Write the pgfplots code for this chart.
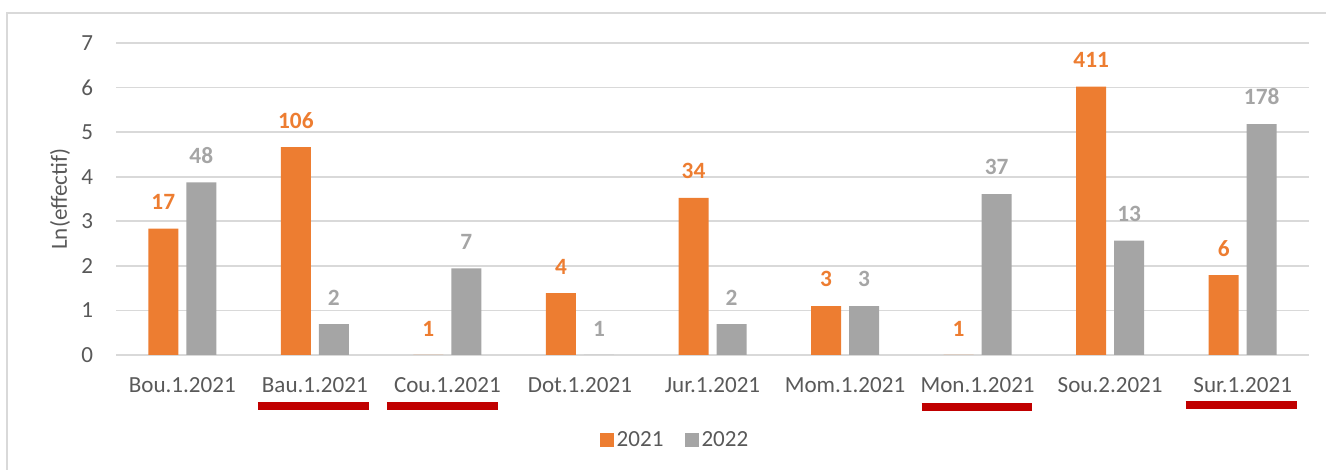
\documentclass[border=0pt]{standalone}
\usepackage{fontspec}
\setmainfont{Carlito}
\usepackage{pgfplots}
\pgfplotsset{compat=1.18}

\definecolor{xlorange}{HTML}{ED7D31}
\definecolor{xlgray}{HTML}{A5A5A5}
\definecolor{gridgray}{HTML}{D9D9D9}
\definecolor{txtgray}{HTML}{595959}
\definecolor{underred}{HTML}{C00000}

\begin{document}
\begin{tikzpicture}
\begin{axis}[
  at={(87pt,86.25pt)}, anchor=south west,
  scale only axis,
  width=894.75pt, height=234pt,
  ybar=6pt, bar width=22.5pt,
  xmin=-0.5, xmax=8.5,
  ymin=0, ymax=7,
  xtick={0,...,8},
  xticklabels={Bou.1.2021,Bau.1.2021,Cou.1.2021,Dot.1.2021,Jur.1.2021,Mom.1.2021,Mon.1.2021,Sou.2.2021,Sur.1.2021},
  ytick={0,...,7},
  axis line style={draw=none},
  ymajorgrids,
  grid style={gridgray, line width=1.2pt},
  major tick length=0pt,
  /pgf/number format/assume math mode=true,
  tick label style={font=\fontsize{17.3}{20}\selectfont, text=txtgray, inner sep=0pt},
  xticklabel style={anchor=north, yshift=-16.5pt},
  yticklabel style={anchor=east, xshift=-17pt},
  ylabel={Ln(effectif)},
  every axis y label/.style={at={(axis description cs:-0.047,0.5)}, rotate=90, anchor=center,
    font=\fontsize{17.3}{20}\selectfont, text=txtgray},
  point meta=explicit symbolic,
  nodes near coords,
  every node near coord/.append style={font=\fontsize{17.5}{20}\selectfont\bfseries, anchor=south, inner sep=0pt, yshift=14pt},
  legend columns=2,
  legend style={at={(axis description cs:0.469,-0.272)}, anchor=center, draw=none, fill=none,
    font=\fontsize{17.3}{20}\selectfont, text=txtgray,
    /tikz/every even column/.append style={column sep=14pt}},
  legend image code/.code={\fill[#1] (0pt,-5.25pt) rectangle (10.5pt,5.25pt);},
  clip=false,
]
\addplot[fill=xlorange, draw=none, every node near coord/.append style={text=xlorange}] coordinates {
  (0,2.833) [17] (1,4.663) [106] (2,0) [1] (3,1.386) [4] (4,3.526) [34]
  (5,1.099) [3] (6,0) [1] (7,6.019) [411] (8,1.792) [6]
};
\addplot[fill=xlgray, draw=none, every node near coord/.append style={text=xlgray}] coordinates {
  (0,3.871) [48] (1,0.693) [2] (2,1.946) [7] (3,0) [1] (4,0.693) [2]
  (5,1.099) [3] (6,3.611) [37] (7,2.565) [13] (8,5.182) [178]
};
\legend{2021,2022}
\draw[underred, line width=6pt] (axis cs:0.571,-1.135) -- (axis cs:1.408,-1.135);
\draw[underred, line width=6pt] (axis cs:1.544,-1.135) -- (axis cs:2.381,-1.135);
\draw[underred, line width=6pt] (axis cs:5.578,-1.17) -- (axis cs:6.408,-1.17);
\draw[underred, line width=6pt] (axis cs:7.569,-1.12) -- (axis cs:8.406,-1.12);
\end{axis}
\draw[gridgray, line width=1.5pt] (5.25pt,0pt) -- (5.25pt,342.75pt) -- (994.5pt,342.75pt);
\pgfresetboundingbox
\path[use as bounding box] (0pt,0pt) rectangle (994.5pt,352.5pt);
\end{tikzpicture}
\end{document}
